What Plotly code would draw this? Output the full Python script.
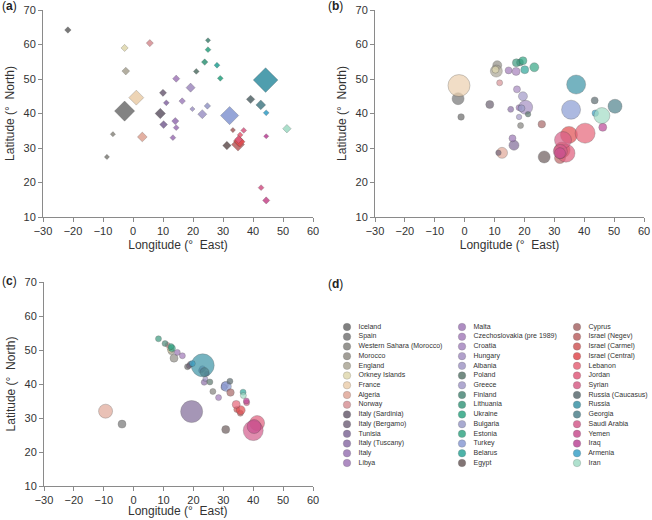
import plotly.graph_objects as go

countries = [
    "Iceland", "Spain", "Western Sahara (Morocco)", "Morocco", "England",
    "Orkney Islands", "France", "Algeria", "Norway", "Italy (Sardinia)",
    "Italy (Bergamo)", "Tunisia", "Italy (Tuscany)", "Italy", "Libya",
    "Malta", "Czechoslovakia (pre 1989)", "Croatia", "Hungary", "Albania",
    "Poland", "Greece", "Finland", "Lithuania", "Ukraine",
    "Bulgaria", "Estonia", "Turkey", "Belarus", "Egypt",
    "Cyprus", "Israel (Negev)", "Israel (Carmel)", "Israel (Central)", "Lebanon",
    "Jordan", "Syrian", "Russia (Caucasus)", "Russia", "Georgia",
    "Saudi Arabia", "Yemen", "Iraq", "Armenia", "Iran",
]

colors = [
    "#6a6a6a", "#767676", "#84837e", "#918e86", "#aba696",
    "#e0d9b0", "#ecd0ae", "#e0a898", "#d89498", "#6a6070",
    "#76687e", "#806a98", "#8c70a8", "#9a76b4", "#a078b8",
    "#a07ab8", "#a680bc", "#a688c0", "#a490c2", "#a298c6",
    "#5c786e", "#a29ac8", "#4c8878", "#3c9a7e", "#30a684",
    "#9a9cc8", "#36a686", "#8a9cd4", "#2ea69a", "#6c5c5c",
    "#a86868", "#bc6464", "#d05a5a", "#e04c50", "#e66478",
    "#e05c7c", "#d86088", "#5c6c70", "#3c94a6", "#50828c",
    "#d45c8c", "#c85090", "#bc4898", "#3ca2c8", "#a2dcc6",
]

# panel (a): geographic location
lon_a = [-21.7, -2.8, -8.7, -6.7, -2.4, -2.8, 1.1, 3.1, 5.6, 9.1,
         10.0, 10.2, 11.1, 14.1, 13.3, 14.4, 14.4, 16.4, 19.2, 19.8,
         21.1, 23.1, 25.0, 23.9, 29.1, 24.8, 25.0, 32.2, 28.0, 31.3,
         33.3, 35.0, 35.2, 35.6, 35.7, 35.2, 36.9, 39.2, 44.2, 42.6,
         42.7, 44.4, 44.4, 44.4, 51.3]
lat_a = [64.2, 40.7, 27.4, 34.0, 52.3, 59.0, 44.6, 33.2, 60.4, 40.0,
         46.0, 36.8, 43.1, 37.8, 33.0, 35.9, 50.1, 43.6, 47.5, 41.3,
         52.2, 39.8, 61.2, 54.9, 50.2, 42.2, 58.5, 39.4, 54.0, 30.7,
         35.2, 31.0, 32.0, 31.8, 33.8, 32.5, 35.1, 44.1, 49.7, 42.5,
         18.5, 14.8, 33.4, 40.2, 35.6]
size_a = [5, 15.5, 4, 4, 6, 5.5, 11.5, 7.5, 5.5, 8,
          5.5, 6, 4.5, 5.5, 4.5, 4.5, 5.5, 5, 7, 4,
          4.5, 7, 4, 5, 4.5, 5, 4.5, 14, 4.5, 6.5,
          4, 10, 8, 8, 4.5, 6, 4.5, 6.5, 19, 7.5,
          4.5, 5.5, 4, 4.5, 6.5]

# panel (b)
lon_b = [-1.2, -2.2, 18.7, 10.9, 10.6, 10.3, -1.9, 12.5, 11.7, 8.4,
         11.3, 16.5, 15.4, 16.0, 18.2, 14.7, 17.2, 17.5, 20.4, 18.2,
         21.2, 19.5, 18.5, 17.3, 19.5, 19.0, 23.3, 35.6, 20.1, 26.6,
         25.8, 31.9, 32.6, 34.9, 40.3, 33.9, 32.9, 43.5, 37.3, 50.3,
         32.0, 31.9, 46.2, 43.7, 45.9]
lat_b = [39.0, 44.3, 36.5, 54.0, 52.3, 52.7, 48.1, 28.6, 48.9, 42.6,
         28.6, 30.8, 41.2, 32.8, 41.7, 52.5, 52.2, 47.0, 41.8, 39.0,
         39.8, 45.0, 54.8, 54.7, 55.3, 41.5, 53.4, 41.1, 52.7, 27.4,
         36.9, 27.1, 29.4, 33.8, 34.3, 28.5, 32.3, 43.8, 48.4, 42.1,
         29.0, 28.5, 36.0, 40.1, 39.4]
size_b = [6.5, 12, 6, 9, 12, 7, 22, 11, 6, 8,
          5.5, 10, 6, 7, 6, 7, 8, 7, 14, 5.5,
          5.5, 9, 7, 8, 8, 7, 9, 19, 8, 12,
          7.5, 11, 16, 17, 20, 18, 17, 7, 19, 14,
          14, 11, 8, 6.5, 16]

# panel (c)
lon_c = [18.0, -3.9, 26.5, 13.5, 12.6, 12.3, 12.0, -9.4, 11.4, 19.0,
         18.5, 19.4, 23.6, 14.6, 16.3, 28.4, 24.5, 22.5, 23.0, 24.0,
         25.5, 30.5, 10.5, 8.3, 12.8, 30.2, 12.5, 31.0, 36.6, 30.8,
         32.4, 35.7, 34.5, 35.8, 34.3, 41.3, 37.8, 32.2, 23.1, 23.7,
         40.0, 40.3, 37.7, 19.6, 36.7]
lat_c = [45.1, 28.2, 37.8, 47.6, 49.5, 50.0, 50.6, 32.0, 51.5, 45.8,
         45.3, 31.9, 40.5, 49.3, 48.3, 36.0, 43.0, 44.0, 44.5, 41.5,
         40.6, 39.6, 51.9, 53.3, 50.5, 39.0, 51.0, 39.3, 37.6, 26.6,
         37.5, 31.4, 32.5, 32.3, 34.0, 28.5, 34.5, 40.8, 45.5, 43.5,
         26.3, 27.5, 35.0, 46.0, 36.6]
size_c = [6, 8, 6, 8, 6, 6, 5, 14, 5, 6,
          5, 22, 6, 6, 6, 6, 5, 5, 6, 5,
          6, 7, 6, 6, 7, 6, 6, 10, 6, 8,
          7.5, 6, 6, 9, 8, 15, 6, 6, 23, 9,
          20, 14, 6, 6, 6]

FONT = "Liberation Sans, Arial, sans-serif"
W, H = 652, 520
LON_TITLE = "Longitude (°  East)"

fig = go.Figure()

fig.add_trace(go.Scatter(
    x=lon_a, y=lat_a, mode="markers", xaxis="x", yaxis="y",
    marker=dict(symbol="diamond", size=size_a, color=colors, opacity=0.9,
                line=dict(color="rgba(60,60,60,0.5)", width=0.5)),
    hovertext=countries, showlegend=False))

fig.add_trace(go.Scatter(
    x=lon_b, y=lat_b, mode="markers", xaxis="x2", yaxis="y2",
    marker=dict(symbol="circle", size=size_b, color=colors, opacity=0.7,
                line=dict(color="rgba(60,60,60,0.6)", width=0.6)),
    hovertext=countries, showlegend=False))

fig.add_trace(go.Scatter(
    x=lon_c, y=lat_c, mode="markers", xaxis="x3", yaxis="y3",
    marker=dict(symbol="circle", size=size_c, color=colors, opacity=0.7,
                line=dict(color="rgba(60,60,60,0.6)", width=0.6)),
    hovertext=countries, showlegend=False))

# legend panel (d): 3 columns of 15 entries
n_rows = 15
leg_col = [i // n_rows for i in range(len(countries))]
leg_row = [i % n_rows for i in range(len(countries))]
fig.add_trace(go.Scatter(
    x=leg_col, y=leg_row, mode="markers+text", xaxis="x4", yaxis="y4",
    text=["   " + c for c in countries], textposition="middle right",
    textfont=dict(size=7, color="#333", family=FONT),
    marker=dict(symbol="circle", size=7.5, color=colors, opacity=0.85,
                line=dict(color="rgba(80,80,80,0.5)", width=0.5)),
    cliponaxis=False, showlegend=False, hoverinfo="skip"))


def px_x(a, b):
    return [a / W, b / W]


def px_y(top, bottom):
    return [1 - bottom / H, 1 - top / H]


def geo_x(dom, title):
    return dict(domain=dom, range=[-30, 60], dtick=10, showline=True,
                linecolor="#8a8a8a", linewidth=1, ticks="outside", ticklen=4,
                tickcolor="#8a8a8a", showgrid=False, zeroline=False,
                automargin=False,
                tickfont=dict(size=11, color="#333"),
                title=dict(text=title, standoff=4,
                           font=dict(size=12, color="#333")))


def geo_y(dom, anchor):
    return dict(domain=dom, range=[10, 70], dtick=10, showline=True,
                linecolor="#8a8a8a", linewidth=1, ticks="outside", ticklen=4,
                tickcolor="#8a8a8a", showgrid=False, zeroline=False,
                automargin=False,
                tickfont=dict(size=11, color="#333"), anchor=anchor,
                title=dict(text="Latitude (°  North)", standoff=6,
                           font=dict(size=12, color="#333")))


labels = [
    dict(text="(<b>%s</b>)" % lab, x=xp / W, y=1 - yp / H, xref="paper",
         yref="paper", xanchor="left", yanchor="middle", showarrow=False,
         font=dict(size=12, color="#222"))
    for lab, xp, yp in [("a", 0, 6), ("b", 326, 6), ("c", 0, 281), ("d", 326, 284)]
]
# panel (c) x title sits tight under its tick labels
labels.append(dict(text=LON_TITLE, x=178.5 / W, y=0, xref="paper",
                   yref="paper", xanchor="center", yanchor="bottom",
                   showarrow=False, font=dict(size=12, color="#333")))

fig.update_layout(
    width=W, height=H,
    margin=dict(l=0, r=0, t=0, b=0),
    paper_bgcolor="white", plot_bgcolor="white",
    font=dict(family=FONT, color="#333"),
    xaxis=geo_x(px_x(43, 313), LON_TITLE) | dict(anchor="y"),
    yaxis=geo_y(px_y(10, 217), "x"),
    xaxis2=geo_x(px_x(375, 644), LON_TITLE) | dict(anchor="y2"),
    yaxis2=geo_y(px_y(10, 217), "x2"),
    xaxis3=geo_x(px_x(44, 313), "") | dict(anchor="y3"),
    yaxis3=geo_y(px_y(282, 486), "x3"),
    xaxis4=dict(domain=px_x(340, 652), range=[-7 / 115, -7 / 115 + 312 / 115],
                visible=False, anchor="y4"),
    yaxis4=dict(domain=px_y(320, 470), range=[-0.72 + 150 / 9.714, -0.72],
                visible=False, anchor="x4"),
    annotations=labels,
)

# drop the browser's default 8px body margin so the figure fills the window
fig.write_html("out.html", config={"displayModeBar": False},
               post_script="document.body.style.margin='0';")
